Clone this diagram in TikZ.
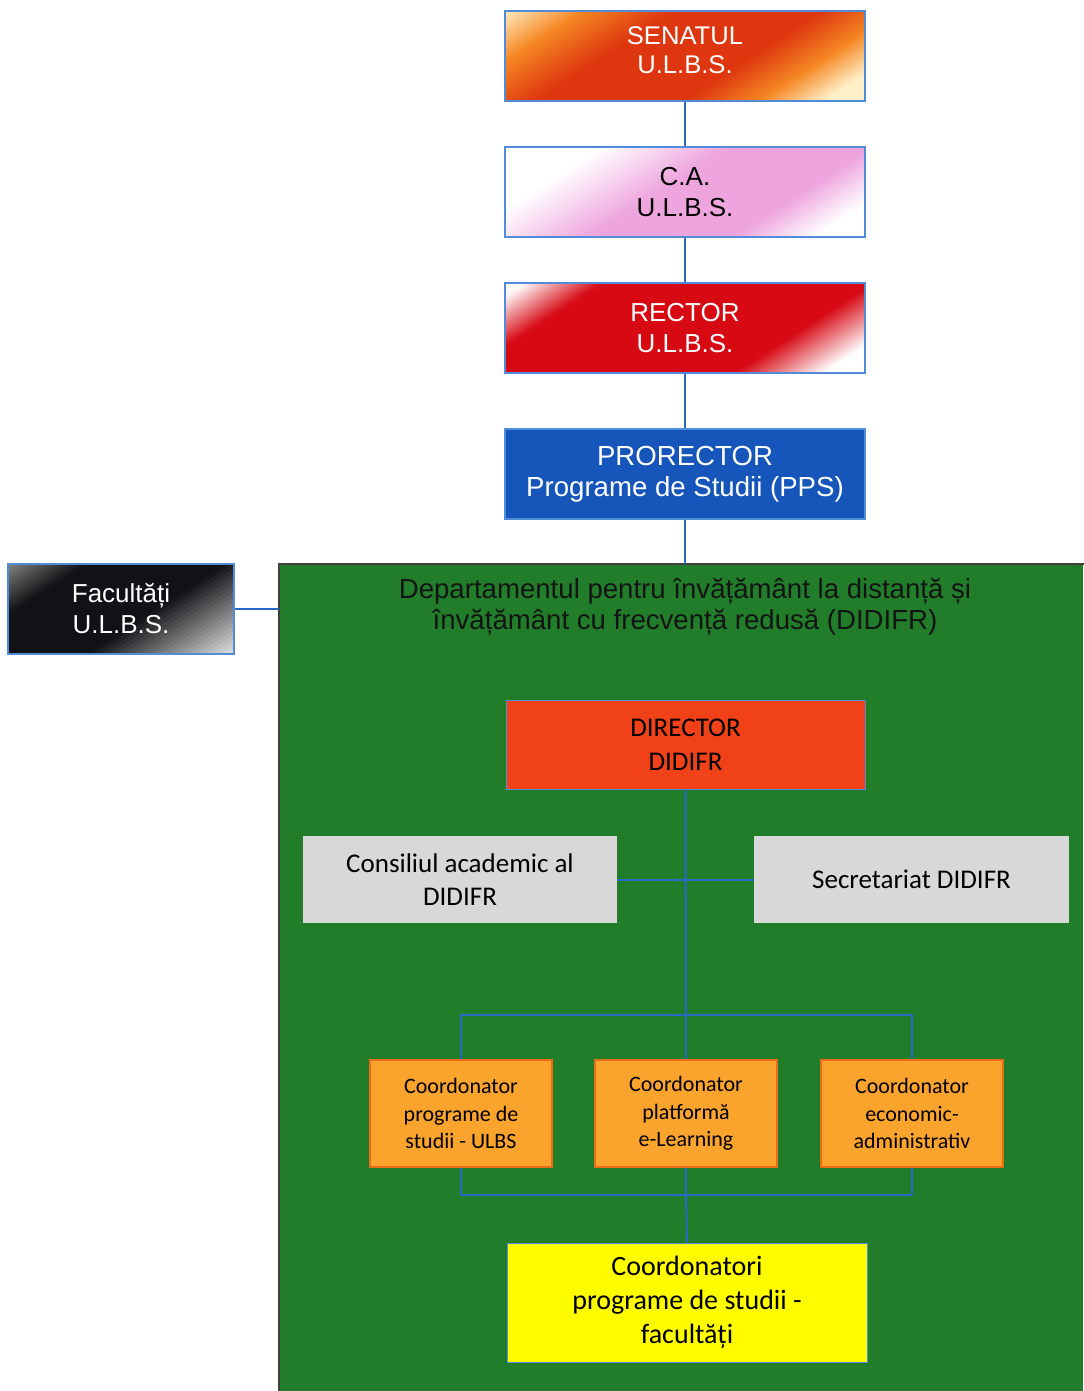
\documentclass[tikz,border=0pt]{standalone}
\usepackage{fontspec}
\setmainfont{Liberation Sans}
\newfontfamily\calfont{Carlito}
\usetikzlibrary{calc,backgrounds}

\definecolor{linkblue}{RGB}{40,105,195}
\definecolor{boxblue}{RGB}{80,140,215}
\definecolor{senlight}{RGB}{255,240,200}
\definecolor{senorange}{RGB}{245,135,35}
\definecolor{senred}{RGB}{222,55,15}
\definecolor{capink}{RGB}{238,165,222}
\definecolor{rectred}{RGB}{215,10,20}
\definecolor{facgrey}{RGB}{135,135,135}
\definecolor{facblack}{RGB}{18,18,22}
\definecolor{facwhite}{RGB}{225,225,225}
\definecolor{prorblue}{RGB}{22,85,185}
\definecolor{didgreen}{RGB}{33,125,42}
\definecolor{dirred}{RGB}{240,65,25}
\definecolor{lightgrey}{RGB}{216,216,216}
\definecolor{coordorange}{RGB}{250,163,45}
\definecolor{coordedge}{RGB}{232,110,25}
\definecolor{yellowbox}{RGB}{255,252,0}

% diagonal colour stripes, from the top left corner (t=0) to the bottom right one (t=1)
% #1 node, #2 length of the diagonal, #3 t0, #4 t1, #5 colour at t0, #6 colour at t1
\newcommand{\gradseg}[6]{%
  \foreach \k in {0,...,19}{%
    \pgfmathsetmacro\ta{#2*(#3+(#4-#3)*\k/20)}%
    \pgfmathsetmacro\tb{#2*(#3+(#4-#3)*(\k+1.5)/20)}%
    \pgfmathsetmacro\pc{5*\k+2.5}%
    \fill[#6!\pc!#5] ($(#1.north west)+(\ta*0.545+335.6,\ta*0.839-218)$)
      -- ($(#1.north west)+(\tb*0.545+335.6,\tb*0.839-218)$)
      -- ($(#1.north west)+(\tb*0.545-335.6,\tb*0.839+218)$)
      -- ($(#1.north west)+(\ta*0.545-335.6,\ta*0.839+218)$) -- cycle;
  }}

\tikzset{
  topbox/.style={draw=boxblue, line width=0.6pt, minimum width=180pt, minimum height=45pt,
    inner sep=0pt, align=center, font=\fontsize{13}{15.5}\selectfont},
  innerbox/.style={inner sep=0pt, align=center, font=\calfont\fontsize{13.5}{16.75}\selectfont},
  coordbox/.style={innerbox, fill=coordorange, draw=coordedge, line width=0.8pt,
    minimum width=91pt, minimum height=53.5pt, font=\calfont\fontsize{11}{13.75}\selectfont},
  link/.style={draw=linkblue, line width=1pt}
}

\begin{document}
\begin{tikzpicture}[x=0.5pt,y=-0.5pt]
\useasboundingbox (0,0) rectangle (1083,1391);
%%%%% START %%%%%

\node[topbox, text=white, font=\fontsize{12.8}{14.5}\selectfont] (senat) at (685,56) {SENATUL\\U.L.B.S.\\[-8.5pt]};
\node[topbox] (ca) at (685,192) {C.A.\\U.L.B.S.};
\node[topbox, text=white] (rector) at (685,328) {RECTOR\\U.L.B.S.};
\node[topbox, fill=prorblue, text=white, font=\fontsize{13.8}{15.5}\selectfont] (pror) at (685,474) {PRORECTOR\\Programe de Studii (PPS)};
\node[topbox, text=white, minimum width=113pt] (fac) at (121,609) {Facultăți\\U.L.B.S.};

\begin{scope}[on background layer]
  \begin{scope}
    \clip (senat.south west) rectangle (senat.north east);
    \fill[senred] (senat.south west) rectangle (senat.north east);
    \gradseg{senat}{272}{0}{0.16}{senlight}{senorange}
    \gradseg{senat}{272}{0.16}{0.34}{senorange}{senred}
    \gradseg{senat}{272}{0.64}{0.79}{senred}{senorange}
    \gradseg{senat}{272}{0.79}{0.92}{senorange}{senlight}
    \gradseg{senat}{272}{0.92}{1}{senlight}{senlight}
  \end{scope}
  \begin{scope}
    \clip (ca.south west) rectangle (ca.north east);
    \fill[capink] (ca.south west) rectangle (ca.north east);
    \gradseg{ca}{272}{0}{0.2}{white}{white}
    \gradseg{ca}{272}{0.2}{0.45}{white}{capink}
    \gradseg{ca}{272}{0.74}{0.9}{capink}{white}
    \gradseg{ca}{272}{0.9}{1}{white}{white}
  \end{scope}
  \begin{scope}
    \clip (rector.south west) rectangle (rector.north east);
    \fill[rectred] (rector.south west) rectangle (rector.north east);
    \gradseg{rector}{272}{0}{0.04}{white}{white}
    \gradseg{rector}{272}{0.04}{0.2}{white}{rectred}
    \gradseg{rector}{272}{0.74}{0.92}{rectred}{white}
    \gradseg{rector}{272}{0.92}{1}{white}{white}
  \end{scope}
  \begin{scope}
    \clip (fac.south west) rectangle (fac.north east);
    \fill[facblack] (fac.south west) rectangle (fac.north east);
    \gradseg{fac}{199}{0}{0.22}{facgrey}{facblack}
    \gradseg{fac}{199}{0.6}{1}{facblack}{facwhite}
  \end{scope}
\end{scope}

% departament
\node[fill=didgreen, anchor=north west, minimum width=402pt, minimum height=413.5pt, inner sep=0pt] (didifr) at (279,564) {};
\draw[black!75, line width=0.6pt] (didifr.south west) -- (didifr.north west) -- (didifr.north east);
\node[align=center, text=black!92, font=\fontsize{13.8}{15.5}\selectfont] (dtitle) at (685,607) {Departamentul pentru învățământ la distanță și\\învățământ cu frecvență redusă (DIDIFR)};

\node[innerbox, fill=dirred, draw=boxblue, line width=0.5pt, minimum width=179.5pt, minimum height=44.5pt] (dir) at (685.5,744.5) {DIRECTOR\\DIDIFR};
\node[innerbox, fill=lightgrey, minimum width=157pt, minimum height=43.5pt] (cons) at (460,879.5) {Consiliul academic al\\DIDIFR};
\node[innerbox, fill=lightgrey, minimum width=157.5pt, minimum height=43.5pt] (sec) at (911.5,879.5) {Secretariat DIDIFR};

\node[coordbox] (cps) at (461,1113.5) {Coordonator\\programe de\\studii - ULBS};
\node[coordbox] (cpl) at (686,1113.5) {Coordonator\\platformă\\e-Learning};
\node[coordbox] (cea) at (912,1113.5) {Coordonator\\economic-\\administrativ};

\node[innerbox, fill=yellowbox, draw=boxblue, line width=0.5pt, minimum width=180pt, minimum height=59.5pt,
  font=\calfont\fontsize{14}{17}\selectfont] (cfac) at (687,1302.5) {Coordonatori\\programe de studii -\\facultăți};

\coordinate (bus1) at (686,1015);
\coordinate (bus2) at (686,1195);

% legaturi
\draw[link] (senat.south) -- (ca.north);
\draw[link] (ca.south) -- (rector.north);
\draw[link] (rector.south) -- (pror.north);
\draw[link] (pror.south) -- (pror.south |- didifr.north);
\draw[link] (fac.east) -- (fac.east -| didifr.west);

\draw[link] (cons.east) -- (sec.west);
\draw[link] (dir.south) -- (bus1);
\draw[link] (cps.north) |- (bus1) -| (cea.north);
\draw[link] (cpl.north) -- (bus1);
\draw[link] (cps.south) |- (bus2) -| (cea.south);
\draw[link] (cpl.south) -- (bus2) -- (cfac.north);

%%%%% END %%%%%
\end{tikzpicture}
\end{document}
